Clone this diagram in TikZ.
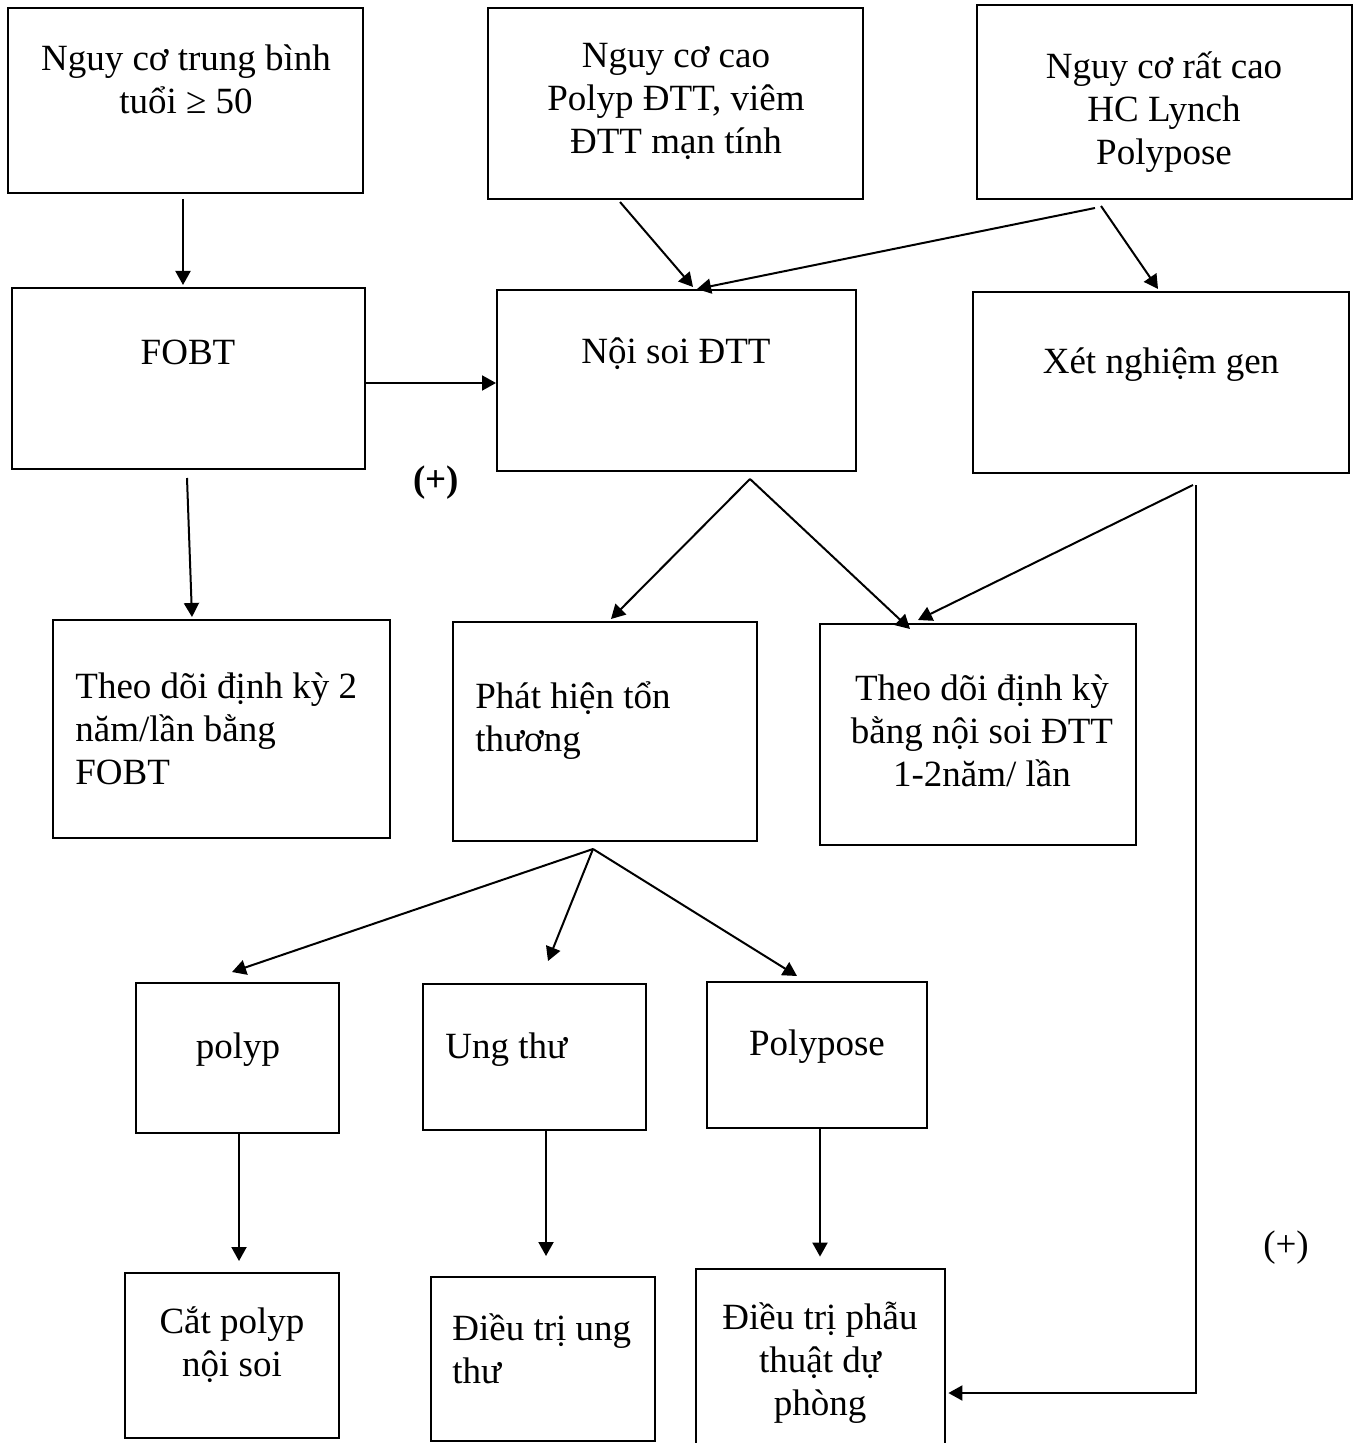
\documentclass[tikz,border=0pt]{standalone}
\usepackage{fontspec}
\setmainfont{Liberation Serif}
\usetikzlibrary{fit,arrows.meta}

\begin{document}
\begin{tikzpicture}[x=0.5pt,y=-0.5pt,
  box/.style={draw, line width=1pt, inner sep=0pt},
  txt/.style={align=center, font=\fontsize{18.5}{21.5}\selectfont, inner sep=0pt},
  ltxt/.style={txt, align=left, anchor=west},
  arr/.style={-{Triangle[length=7pt,width=7.5pt]}, line width=1pt}]
\useasboundingbox (0,0) rectangle (1354,1443);

% nhóm nguy cơ
\node[box, fit={(8,8) (363,193)}] (avg) {};
\node[box, fit={(488,8) (863,199)}] (high) {};
\node[box, fit={(977,5) (1352,199)}] (vhigh) {};
\node[txt] (avgtxt) at (186,79) {Nguy cơ trung bình\\tuổi ≥ 50};
\node[txt] (hightxt) at (676,101) {Nguy cơ cao\\Polyp ĐTT, viêm\\ĐTT mạn tính};
\node[txt] (vhightxt) at (1164,112) {Nguy cơ rất cao\\HC Lynch\\Polypose};

% xét nghiệm
\node[box, fit={(12,288) (365,469)}] (fobt) {};
\node[box, fit={(497,290) (856,471)}] (noisoi) {};
\node[box, fit={(973,292) (1349,473)}] (gene) {};
\node[txt] (fobttxt) at (188,352) {FOBT};
\node[txt] (noisoitxt) at (676,354) {Nội soi ĐTT};
\node[txt] (genetxt) at (1161,365) {Xét nghiệm gen};

% theo dõi / phát hiện
\node[box, fit={(53,620) (390,838)}] (follow) {};
\node[box, fit={(453,622) (757,841)}] (find) {};
\node[box, fit={(820,624) (1136,845)}] (endo) {};
\node[ltxt] (followtxt) at (75,729) {Theo dõi định kỳ 2\\năm/lần bằng\\FOBT};
\node[ltxt] (findtxt) at (475,721) {Phát hiện tổn\\thương};
\node[txt] (endotxt) at (982,731) {Theo dõi định kỳ\\bằng nội soi ĐTT\\1-2năm/ lần};

% tổn thương
\node[box, fit={(136,983) (339,1133)}] (polyp) {};
\node[box, fit={(423,984) (646,1130)}] (cancer) {};
\node[box, fit={(707,982) (927,1128)}] (polyposis) {};
\node[txt] (polyptxt) at (238,1050) {polyp};
\node[ltxt] (cancertxt) at (445,1050) {Ung thư};
\node[txt] (polyposistxt) at (817,1047) {Polypose};

% điều trị
\node[box, fit={(125,1273) (339,1438)}] (cut) {};
\node[box, fit={(431,1277) (655,1441)}] (treat) {};
\node[inner sep=0pt, fit={(696,1269) (945,1443)}] (surg) {};
\draw[line width=1pt] (surg.south west) -- (surg.north west) -- (surg.north east) -- (surg.south east);
\node[txt] (cuttxt) at (232,1345) {Cắt polyp\\nội soi};
\node[ltxt] (treattxt) at (452,1349) {Điều trị ung\\thư};
\node[txt] (surgtxt) at (820,1363) {Điều trị phẫu\\thuật dự\\phòng};

\node[txt, font=\fontsize{18.5}{21.5}\selectfont\bfseries] (plusa) at (436,483) {(+)};
\node[txt] (plusb) at (1286,1248) {(+)};

% mũi tên
\draw[arr] ([xshift=-1.25pt,yshift=-2.5pt]avg.south) -- ([xshift=-2.75pt,yshift=1pt]fobt.north);
\draw[arr] ([xshift=-27.75pt,yshift=-1pt]high.south) -- ([xshift=8.25pt,yshift=1pt]noisoi.north);
\draw[arr] ([xshift=-34.75pt,yshift=-4pt]vhigh.south) -- ([xshift=10.25pt]noisoi.north);
\draw[arr] ([xshift=-31.75pt,yshift=-3pt]vhigh.south) -- ([xshift=-1.5pt,yshift=1pt]gene.north);
\draw[arr] ([yshift=-2.25pt]fobt.east) -- ([yshift=-1.25pt]noisoi.west);
\draw[arr] ([xshift=-0.75pt,yshift=-4pt]fobt.south) -- ([xshift=-14.75pt,yshift=1pt]follow.north);
\draw[arr] ([xshift=36.75pt,yshift=-3.5pt]noisoi.south) -- ([xshift=3pt,yshift=1pt]find.north);
\draw[arr] ([xshift=36.75pt,yshift=-3.5pt]noisoi.south) -- ([xshift=-34pt,yshift=-3pt]endo.north);
\draw[arr] ([xshift=16pt,yshift=-5.5pt]gene.south) -- ([xshift=-30pt,yshift=1.5pt]endo.north);
\draw[arr] ([xshift=17.5pt,yshift=-5.5pt]gene.south) |- ([xshift=1.5pt,yshift=-18.5pt]surg.east);
\draw[arr] ([xshift=-6pt,yshift=-3.5pt]find.south) -- ([xshift=-2.75pt,yshift=5pt]polyp.north);
\draw[arr] ([xshift=-6pt,yshift=-3.5pt]find.south) -- ([xshift=6.75pt,yshift=11pt]cancer.north);
\draw[arr] ([xshift=-6pt,yshift=-3.5pt]find.south) -- ([xshift=-10pt,yshift=2.5pt]polyposis.north);
\draw[arr] ([xshift=0.75pt]polyp.south) -- ([xshift=3.5pt,yshift=5.5pt]cut.north);
\draw[arr] ([xshift=5.75pt]cancer.south) -- ([xshift=1.5pt,yshift=10pt]treat.north);
\draw[arr] ([xshift=1.5pt]polyposis.south) -- ([xshift=-0.25pt,yshift=6pt]surg.north);
\end{tikzpicture}
\end{document}
